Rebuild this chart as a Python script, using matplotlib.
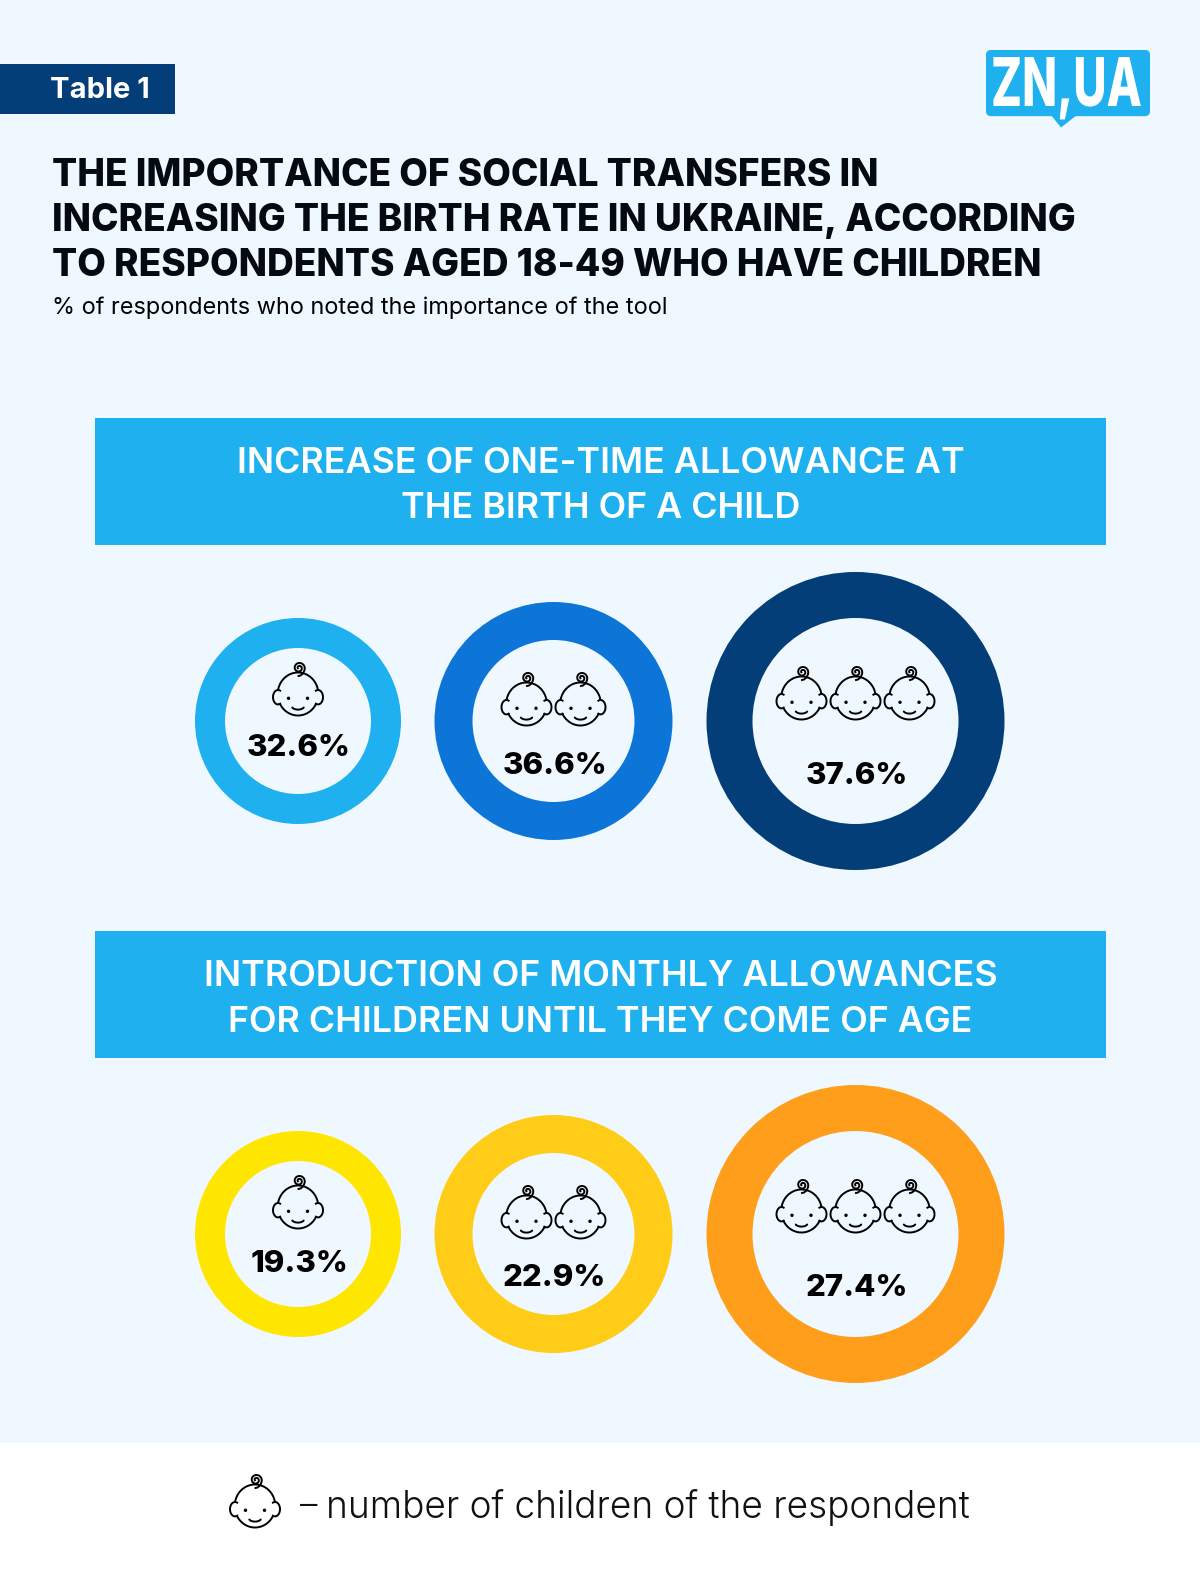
import numpy as np
import matplotlib
matplotlib.use("Agg")
import matplotlib.pyplot as plt
from matplotlib.patches import Circle, Rectangle, FancyBboxPatch, Polygon
from matplotlib.patheffects import AbstractPathEffect
from matplotlib.transforms import Affine2D

plt.rcParams['font.family'] = ['Inter', 'DejaVu Sans']

# data
title_lines = ["THE IMPORTANCE OF SOCIAL TRANSFERS IN",
               "INCREASING THE BIRTH RATE IN UKRAINE, ACCORDING",
               "TO RESPONDENTS AGED 18-49 WHO HAVE CHILDREN"]
subtitle = "% of respondents who noted the importance of the tool"
group_titles = [["INCREASE OF ONE-TIME ALLOWANCE AT", "THE BIRTH OF A CHILD"],
                ["INTRODUCTION OF MONTHLY ALLOWANCES", "FOR CHILDREN UNTIL THEY COME OF AGE"]]
children = [1, 2, 3]
one_time = [32.6, 36.6, 37.6]
monthly = [19.3, 22.9, 27.4]
one_time_colors = ["#1fb0f0", "#0d75d8", "#033e78"]
monthly_colors = ["#ffe600", "#ffcc17", "#ff9e1b"]

BG = "#eff8fe"
BLUE = "#1fb0f0"
NAVY = "#033e78"

# ring layout for 1,2,3 children
ring_x = [298, 553.5, 855.5]
ring_outer = [103, 119, 149]
ring_inner = [73, 81, 103]
icon_dy = [-27, -17, -23]
icon_gap = 54


class Squeeze(AbstractPathEffect):
    # narrows a text sideways, no condensed font is installed
    def __init__(self, sx, dx):
        super().__init__()
        self.sx = sx
        self.dx = dx

    def draw_path(self, renderer, gc, tpath, affine, rgbFace=None):
        tr = Affine2D().scale(self.sx, 1) + affine + Affine2D().translate(self.dx, 0)
        renderer.draw_path(gc, tpath, tr, rgbFace)


def baby(ax, cx, cy, lw=1.4):
    # head, ears, eyes, mouth and the curl on top
    t = np.radians(np.linspace(12, 168, 60))
    ax.plot(cx + 20.3 * np.cos(t), cy - 21.5 * np.sin(t), color="k", lw=lw)
    t = np.radians(np.linspace(208, 332, 60))
    ax.plot(cx + 20.3 * np.cos(t), cy - 21.5 * np.sin(t), color="k", lw=lw)
    for side in (-1, 1):
        t = np.radians(np.linspace(-115, 115, 30))
        ax.plot(cx + side * (20 + 5.0 * np.cos(t)), cy + 3.2 - 7.2 * np.sin(t), color="k", lw=lw)
        ax.add_patch(Circle((cx + side * 9.5, cy + 4.3), 1.7, color="k", lw=0))
    t = np.radians(np.linspace(205, 335, 20))
    ax.plot(cx + 6.3 * np.cos(t), cy + 12 - 3.6 * np.sin(t), color="k", lw=lw, solid_capstyle="round")
    t = np.linspace(0, 1, 60)
    a = 2 * np.pi + 0.1 - 3.1 * np.pi * (1 - t)
    r = 1.2 + 4.6 * t
    xs = list(cx + 1 + r * np.cos(a)) + [cx + 6.4, cx + 5, cx + 2.5, cx + 0.5]
    ys = list(cy - 26 + r * np.sin(a)) + [cy - 23.5, cy - 20.5, cy - 18.5, cy - 18]
    ax.plot(xs, ys, color="k", lw=lw)


def ring_group(ax, values, colors, title, top, label_dy):
    ax.add_patch(Rectangle((95, top), 1011, 127, color=BLUE, lw=0))
    for line, dy in zip(title, [42, 87.5]):
        ax.text(600.5, top + dy, line, color="white", ha="center", va="center_baseline",
                fontsize=25.8, fontweight=600)
    cy = top + 303
    for i, n in enumerate(children):
        ax.add_patch(Circle((ring_x[i], cy), ring_outer[i], color=colors[i], lw=0))
        ax.add_patch(Circle((ring_x[i], cy), ring_inner[i], color=BG, lw=0))
        for k in range(n):
            baby(ax, ring_x[i] + (k - (n - 1) / 2) * icon_gap, cy + icon_dy[i])
        ax.text(ring_x[i] + 1, cy + label_dy[i], "%.1f%%" % values[i], ha="center", va="center_baseline",
                fontsize=22.4, fontweight=800, color="k")


def main():
    fig = plt.figure(figsize=(12, 15.9), dpi=100, facecolor=BG)
    ax = fig.add_axes([0, 0, 1, 1])
    ax.set_xlim(0, 1200)
    ax.set_ylim(1590, 0)
    ax.axis("off")

    ax.add_patch(Rectangle((0, 64), 175, 50, color=NAVY, lw=0))
    ax.text(50.5, 88, "Table 1", color="white", fontsize=21, fontweight=700, va="center_baseline")

    # logo
    ax.add_patch(FancyBboxPatch((990, 54), 156, 59, boxstyle="round,pad=3.5,rounding_size=5",
                                fc="#9cc4dc", ec="none", alpha=0.6))
    ax.add_patch(FancyBboxPatch((990, 54), 156, 58, boxstyle="round,pad=4,rounding_size=5",
                                fc=BLUE, ec="none"))
    ax.add_patch(Polygon([[1051, 115], [1077, 115], [1061, 127.5]], fc=BLUE, ec="none"))
    logo = ax.text(975, 106, "ZN,UA", color="white", ha="left", va="baseline", fontsize=48.5, fontweight=800)
    logo.set_path_effects([Squeeze(0.68, 16)])

    for line, y in zip(title_lines, [172, 217, 262]):
        ax.text(52, y, line, fontsize=26.7, fontweight=800, va="center_baseline", color="#050a12")
    ax.text(52, 305, subtitle, fontsize=16.9, va="center_baseline", color="k")

    ring_group(ax, one_time, one_time_colors, group_titles[0], 418, [24, 41.5, 51.5])
    ring_group(ax, monthly, monthly_colors, group_titles[1], 931, [27.5, 41.5, 51.5])

    # legend strip
    ax.add_patch(Rectangle((0, 1443), 1200, 147, color="white", lw=0))
    baby(ax, 255, 1506)
    ax.text(300, 1503, "\u2013", fontsize=25, fontweight=300, va="center_baseline", color="#111111")
    ax.text(326, 1503, "number of children of the respondent", fontsize=26.7, fontweight=300,
            va="center_baseline", color="#111111")

    fig.savefig("out.png", dpi=100, facecolor=BG)


if __name__ == "__main__":
    main()
